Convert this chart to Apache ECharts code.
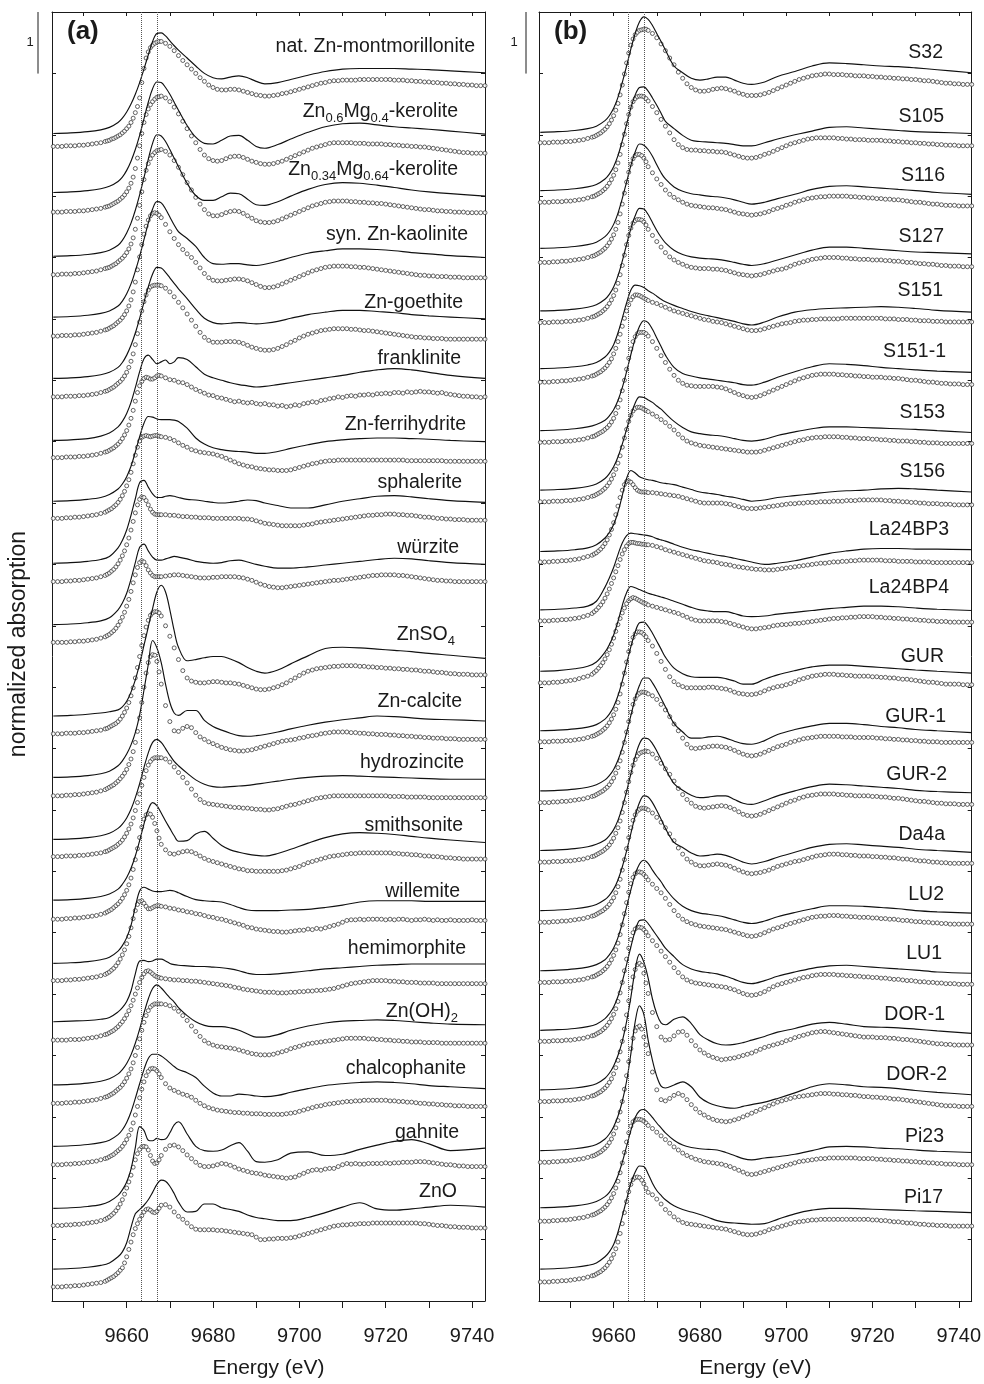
<!DOCTYPE html>
<html><head><meta charset="utf-8">
<script src="https://cdn.jsdelivr.net/npm/echarts/dist/echarts.min.js"></script>
<style>html,body{margin:0;padding:0;background:#fff}#c{width:984px;height:1384px}</style>
</head><body><div id="c"></div>
<script>
// ---------------- DATA ----------------
const energyS=[9643,9647,9651,9654,9656,9658,9659,9660,9661,9662,9663,9664,9665,9666,9667,9668,9669,9670,9671,9672,9674,9676,9678,9680,9682,9684,9686,9688,9690,9692,9695,9698,9702,9706,9710,9714,9718,9722,9726,9730,9735,9743];
const energyC=[9643,9644,9645,9646,9647,9648,9649,9650,9651,9652,9653,9654,9655,
9655.5,9656,9656.5,9657,9657.5,9658,9658.5,9659,9659.5,9660,9660.5,9661,9661.5,9662,9662.5,9663,9663.5,9664,9664.5,9665,9665.5,9666,9666.5,9667,9667.5,9668,
9669,9670,9671,9672,9673,9674,9675,9676,9677,9678,9679,9680,9681,9682,9683,9684,9685,9686,9687,9688,9689,9690,9691,9692,9693,9694,9695,9696,9697,9698,9699,9700,9701,9702,9703,9704,9705,9706,9707,9708,9709,9710,9711,9712,9713,9714,9715,9716,9717,9718,9719,9720,9721,9722,9723,9724,9725,9726,9727,9728,9729,9730,9731,9732,9733,9734,9735,9736,9737,9738,9739,9740,9741,9742,9743];
const labelsA=['nat. Zn-montmorillonite','Zn_{0.6}Mg_{0.4}-kerolite','Zn_{0.34}Mg_{0.64}-kerolite','syn. Zn-kaolinite','Zn-goethite','franklinite','Zn-ferrihydrite','sphalerite','würzite','ZnSO_{4}','Zn-calcite','hydrozincite','smithsonite','willemite','hemimorphite','Zn(OH)_{2}','chalcophanite','gahnite','ZnO'];
const labelsB=['S32','S105','S116','S127','S151','S151-1','S153','S156','La24BP3','La24BP4','GUR','GUR-1','GUR-2','Da4a','LU2','LU1','DOR-1','DOR-2','Pi23','Pi17'];
const offsetsA=[19,18,17,16,15,14,13,12,11,9.5,8.5,7.5,6.5,5.5,4.5,3.5,2.5,1.5,0.5];
const offsetsB=[19,18.05,17.1,16.1,15.15,14.15,13.15,12.2,11.2,10.25,9.25,8.3,7.3,6.35,5.35,4.4,3.4,2.45,1.5,0.5];
const circleShiftA=0.3, circleShiftB=0.2;
const refLines=[9663.3,9667.0];
const xTickValues=[9650,9660,9670,9680,9690,9700,9710,9720,9730,9740];
const xLabelValues=[9660,9680,9700,9720,9740];
// values in hundredths of normalized absorption
const a1s=[2,3,5,8,12,20,27,37,50,66,85,107,130,152,165,166,161,153,145,138,125,112,100,93,91,94,96,93,87,83,85,90,97,103,107,108,108,108,107,106,104,101];
const a1c=[11,11,11,12,12,12,13,13,14,15,16,17,19,20,21,23,24,26,28,30,33,36,40,44,50,57,66,76,90,115,138,155,165,172,176,179,181,182,182,179,174,167,159,151,144,137,130,123,117,111,107,104,103,103,104,104,103,101,99,97,95,94,93,93,94,95,97,98,100,102,104,106,108,110,112,114,115,117,118,118,119,119,119,119,120,120,120,120,120,120,120,120,119,119,119,118,118,117,117,116,116,115,115,114,114,113,113,112,112,111,111,110,110,110];
const a2s=[6,7,9,12,16,24,31,42,57,76,99,126,153,175,186,185,177,166,153,140,115,96,86,85,91,98,99,91,81,78,84,93,104,113,118,119,116,113,111,109,106,101];
const a2c=[4,4,4,5,5,5,6,6,7,8,9,10,12,13,14,16,18,20,22,25,28,32,37,43,51,61,75,92,112,132,150,163,172,179,184,188,191,192,193,190,184,175,164,152,140,128,117,106,97,91,88,87,88,91,94,95,95,93,90,87,85,83,82,82,83,85,87,90,93,96,99,102,105,108,110,112,114,116,117,117,117,117,117,116,116,116,115,115,115,115,114,114,113,113,112,112,111,111,110,110,109,108,107,106,105,104,103,102,101,101,100,100,100,100];
const a3s=[2,3,5,8,12,20,28,40,56,77,102,130,160,186,200,198,189,176,162,148,121,101,93,93,99,105,104,95,86,85,91,100,111,119,122,121,118,114,110,107,104,100];
const a3c=[2,2,3,3,3,4,4,5,6,7,8,10,12,13,14,16,18,20,23,26,29,33,38,44,52,62,76,94,115,137,157,172,183,191,197,201,204,205,206,203,197,188,177,165,152,140,128,117,108,101,98,98,100,103,105,106,105,102,98,94,90,88,87,87,88,90,93,96,99,102,105,108,111,114,116,118,120,121,122,122,122,122,121,121,120,120,119,119,118,118,117,116,115,114,113,112,111,110,109,108,108,107,106,106,105,105,104,104,104,103,103,103,103,103];
const a4s=[3,4,6,9,13,21,29,41,57,78,102,129,156,179,191,189,179,166,153,142,131,118,100,90,89,90,90,88,87,89,94,100,107,111,114,114,113,111,108,106,103,100];
const a4c=[2,2,3,3,3,4,4,5,6,7,8,10,12,13,15,17,19,22,25,28,32,37,43,51,61,74,90,110,131,151,168,181,191,198,202,203,202,199,195,184,172,161,151,143,136,130,122,113,104,97,93,92,92,93,94,95,95,94,92,89,86,83,81,81,82,84,87,90,93,96,99,102,105,108,110,112,114,115,116,116,116,116,115,115,114,114,113,112,111,110,109,108,107,106,105,104,103,102,101,101,100,100,99,99,99,98,98,98,97,97,97,97,97,97];
const a5s=[3,4,6,9,13,21,29,41,57,77,101,127,152,173,184,183,176,167,158,149,133,116,101,94,92,93,94,93,92,93,96,101,107,111,114,114,112,110,107,105,103,100];
const a5c=[3,3,3,4,4,4,5,5,6,7,8,10,12,13,15,17,19,22,25,28,32,37,43,51,61,73,88,106,125,143,158,169,177,182,184,185,185,185,184,180,174,166,157,148,138,128,118,108,100,95,92,92,92,93,93,93,92,90,87,84,82,80,79,79,80,82,85,88,92,95,99,102,105,107,109,111,112,113,114,114,114,114,113,113,112,111,111,110,109,108,107,106,105,104,103,102,101,100,100,99,99,98,98,98,97,97,97,97,97,97,97,97,97,97];
const a6s=[2,3,5,9,14,24,33,46,64,88,114,135,141,134,127,130,133,127,130,137,134,122,110,104,100,96,93,91,89,90,93,96,100,104,108,113,117,119,117,113,108,103];
const a6c=[4,4,4,5,5,5,6,6,7,8,9,11,13,14,16,18,20,23,26,30,35,41,48,57,68,81,96,110,121,128,133,135,134,132,132,134,137,138,137,134,131,130,127,126,123,119,115,112,109,106,105,102,101,99,97,95,96,94,93,94,92,91,92,90,90,88,89,87,88,90,89,92,93,95,94,97,98,100,101,103,102,104,105,104,106,106,107,106,108,108,109,108,110,110,109,111,110,111,112,111,111,110,109,110,108,107,106,105,104,104,103,103,102,103];
const a7s=[3,4,6,9,14,23,31,43,60,83,108,130,141,140,137,136,136,136,135,133,122,106,96,90,87,85,84,83,81,81,84,89,95,100,103,105,106,106,105,104,102,100];
const a7c=[5,5,5,6,6,7,7,8,9,10,11,13,15,17,19,21,24,27,31,36,42,49,58,68,80,94,108,121,131,137,139,140,139,138,139,140,140,139,138,137,135,132,128,124,121,117,115,113,112,111,110,108,106,103,100,97,94,92,90,89,87,86,85,84,84,83,83,83,84,86,88,90,92,94,95,97,98,99,99,100,100,100,100,100,100,100,100,100,100,100,100,100,100,100,100,99,99,99,99,99,99,99,99,99,98,98,98,98,98,98,98,98,98,98];
const a8s=[2,3,5,8,13,27,39,56,80,107,133,137,126,115,109,109,111,112,111,109,106,105,103,101,100,101,103,105,104,100,96,92,92,97,103,107,111,112,110,107,104,101];
const a8c=[2,2,2,3,3,4,4,5,6,7,8,10,12,14,16,19,22,26,31,37,44,52,62,73,86,100,114,127,136,140,139,134,127,120,115,112,111,111,111,111,110,110,109,108,108,107,107,106,106,106,105,105,105,105,105,105,105,104,104,103,101,99,97,96,95,94,93,93,93,93,93,94,95,96,98,99,100,101,102,103,104,105,106,107,108,109,110,110,111,111,112,112,112,111,111,110,110,109,108,107,107,106,105,105,104,104,103,103,103,102,102,102,102,102];
const a9s=[2,3,5,8,13,26,37,53,76,103,128,133,122,112,107,107,109,111,113,112,109,105,103,102,103,106,107,104,100,97,94,94,96,99,102,105,108,110,109,106,103,100];
const a9c=[3,3,3,3,4,4,5,5,6,7,8,10,12,14,16,19,22,26,31,37,44,52,62,73,86,100,113,125,133,136,134,128,121,116,112,110,110,110,110,111,112,113,113,112,111,110,109,108,108,108,109,109,110,110,110,110,109,108,106,104,101,98,96,94,93,92,92,93,94,95,96,97,98,99,100,101,102,103,104,104,105,106,107,108,109,110,111,112,112,113,113,113,113,112,112,111,110,109,108,107,106,105,104,104,103,103,102,102,102,102,102,102,102,102];
const a10s=[3,4,6,8,10,13,18,27,42,62,88,118,148,178,205,216,205,176,142,115,93,95,98,100,100,96,90,82,76,73,78,88,101,113,115,114,112,110,108,105,102,97];
const a10c=[4,4,4,5,5,5,6,6,7,8,9,10,12,13,15,17,19,21,24,28,33,39,46,55,66,79,95,112,130,148,164,178,189,197,201,203,203,201,196,180,163,144,125,107,95,90,88,87,87,88,89,89,88,87,87,86,85,83,81,79,77,76,76,77,79,81,84,87,91,95,99,103,106,108,110,111,112,113,114,114,115,115,115,115,114,114,113,113,112,112,111,111,110,110,109,109,108,108,107,106,106,105,104,104,103,102,102,101,101,101,100,100,100,100];
const a11s=[3,4,6,9,13,22,30,41,56,76,105,145,187,226,214,190,155,125,108,104,112,112,96,86,80,75,71,70,71,73,77,82,88,93,97,100,103,102,100,98,97,95];
const a11c=[3,3,3,4,4,5,5,6,7,8,9,11,13,15,17,19,21,24,27,31,35,40,46,54,63,75,90,108,130,155,180,203,220,230,233,232,222,205,185,150,124,109,108,113,116,114,106,99,95,91,88,85,82,80,78,77,76,76,77,78,80,82,84,86,88,90,92,93,94,95,97,98,100,101,102,104,105,106,107,107,107,107,106,106,105,105,104,104,103,103,103,102,102,101,101,100,100,99,99,98,98,97,97,97,96,96,96,95,95,95,95,95,95,95];
const a12s=[2,3,5,8,12,20,27,37,51,70,93,119,143,160,165,160,150,139,129,122,110,99,92,88,87,88,89,90,92,94,97,100,103,105,106,105,104,103,102,101,100,100];
const a12c=[4,4,4,5,5,5,6,6,7,8,9,10,12,13,15,17,19,21,24,27,31,36,42,49,57,67,79,92,106,120,133,144,153,159,163,165,165,165,165,163,158,150,141,133,124,114,104,97,92,90,89,88,87,86,85,84,84,83,83,82,81,81,80,80,81,82,84,86,88,89,91,93,95,97,99,100,101,102,103,103,103,103,103,103,103,103,103,103,103,103,103,102,102,102,102,101,101,101,101,101,100,100,100,100,100,100,100,100,100,100,100,100,100,100];
const a13s=[3,4,6,9,13,21,29,40,55,75,100,127,151,162,157,145,132,120,108,99,100,111,115,104,92,85,81,78,76,75,79,86,96,105,111,113,112,110,107,104,101,97];
const a13c=[2,2,2,3,3,4,4,5,6,7,8,10,12,14,16,18,21,24,27,31,36,42,49,58,69,83,99,117,135,152,165,172,174,173,168,158,146,134,124,115,109,108,110,112,113,112,109,105,101,98,96,94,92,90,88,86,84,83,81,81,80,80,80,80,80,80,81,82,84,86,88,91,94,96,98,100,102,104,105,106,107,108,109,109,110,110,110,110,110,110,110,110,109,109,108,108,107,107,106,105,105,104,104,103,102,102,101,101,100,100,100,100,100,100];
const a14s=[0,1,3,6,10,20,29,42,62,92,118,124,121,118,117,117,118,119,118,115,109,104,102,101,100,96,91,87,86,86,86,87,88,91,95,100,102,102,102,101,101,101];
const a14c=[2,2,2,3,3,4,4,5,6,7,8,10,12,14,16,19,22,26,31,37,44,52,62,74,88,103,116,126,131,132,128,123,119,119,121,123,124,124,123,122,120,119,117,116,114,113,111,110,108,106,105,103,102,100,98,96,94,92,89,88,86,85,84,83,82,82,81,81,82,83,84,84,86,85,87,86,88,90,92,94,97,100,101,101,102,101,102,102,102,102,101,102,101,102,102,101,100,101,101,102,101,100,101,100,100,101,100,100,100,100,101,100,100,100];
const a15s=[5,6,7,9,12,21,28,38,55,83,104,105,103,104,107,107,104,100,98,97,96,95,95,94,93,91,88,84,82,82,83,85,88,91,93,95,97,98,99,99,99,99];
const a15c=[5,5,5,5,6,6,6,7,8,9,10,12,14,15,17,19,21,24,27,31,35,40,46,53,61,70,80,90,99,107,113,117,118,116,113,110,108,107,106,105,104,103,103,102,102,101,101,100,99,98,97,96,95,94,93,91,90,88,87,86,85,84,83,83,83,82,82,82,83,83,84,84,85,85,86,86,87,88,89,91,93,95,97,98,99,100,101,102,102,102,102,101,101,100,100,99,99,99,98,98,98,98,97,97,97,97,97,97,97,97,97,97,97,97];
const a16s=[2,3,5,8,12,20,27,37,51,70,93,119,142,159,165,160,152,144,137,128,115,105,99,97,97,95,91,85,80,80,84,91,98,103,106,107,108,107,105,103,101,100];
const a16c=[2,2,2,3,3,4,4,5,6,7,8,10,12,13,15,17,19,22,25,28,32,37,43,50,58,68,80,93,107,121,134,145,153,159,162,164,164,164,164,163,161,157,152,145,137,128,119,111,104,100,97,95,94,93,92,91,89,87,85,83,82,81,81,81,82,84,86,88,91,93,95,97,99,100,101,102,103,104,105,106,107,108,108,108,108,108,107,107,106,106,105,105,104,104,103,103,102,102,102,101,101,101,101,100,100,100,100,100,100,100,100,100,100,100];
const a17s=[2,3,5,8,12,21,29,41,58,80,104,127,145,152,152,149,144,138,132,127,122,114,100,89,84,84,87,86,84,83,85,90,96,101,104,106,107,106,104,101,99,96];
const a17c=[2,2,2,3,3,4,4,5,6,7,8,10,12,13,15,17,19,22,25,28,32,37,43,50,59,70,83,97,111,125,137,147,154,158,159,158,155,150,144,134,127,123,120,117,115,112,107,102,98,95,93,91,90,89,88,87,87,86,86,85,85,85,84,84,84,84,84,85,86,87,89,91,93,95,97,98,100,101,102,103,104,105,105,106,106,107,107,107,107,107,107,106,106,105,105,104,104,103,102,102,101,101,100,100,99,99,98,98,98,97,97,97,97,97];
const a18s=[1,2,4,7,12,22,31,44,65,100,134,128,112,111,115,113,114,124,137,142,122,102,95,94,96,103,108,94,77,76,80,91,93,87,89,97,104,110,113,106,95,99];
const a18c=[3,3,3,4,4,5,5,6,7,8,9,11,13,15,17,20,23,27,32,38,45,54,64,74,85,98,110,120,127,131,132,131,126,117,108,104,105,110,117,127,133,134,131,125,118,112,106,101,99,99,100,102,104,103,101,98,95,93,91,89,88,87,85,84,83,82,81,80,81,82,85,88,91,93,94,93,95,96,96,99,102,104,103,104,103,103,104,104,104,104,105,104,105,105,106,106,106,107,107,107,106,105,104,103,102,102,101,100,100,99,99,99,99,99];
const a19s=[2,3,5,8,12,22,30,45,70,92,99,106,115,127,140,147,145,137,125,111,95,96,108,108,102,99,96,90,86,84,81,81,86,94,103,110,100,98,100,103,106,103];
const a19c=[3,3,3,4,4,5,5,6,7,8,9,10,12,14,16,18,20,23,26,30,34,42,52,64,76,88,98,106,113,119,125,129,130,128,125,124,126,131,136,137,133,125,118,113,107,101,97,96,96,96,96,95,95,94,93,92,91,90,89,88,84,80,80,81,81,82,82,82,83,84,86,88,90,92,94,96,98,100,102,103,104,104,105,105,106,106,106,107,107,107,107,107,107,107,107,107,107,107,106,106,105,104,103,103,102,101,101,100,100,100,99,99,99,99];
const b1s=[4,5,7,10,14,23,31,43,61,85,112,140,165,184,192,188,178,165,152,138,112,101,92,89,91,94,94,89,84,82,86,95,103,112,117,116,114,112,111,109,106,101];
const b1c=[7,7,7,8,8,8,9,9,10,11,12,14,16,17,19,21,23,26,29,33,38,44,51,60,71,85,101,119,137,153,166,176,183,187,190,191,192,192,190,185,178,168,157,145,134,122,112,103,97,93,91,91,92,94,95,96,95,93,91,88,86,84,84,84,85,87,89,92,95,98,101,104,107,110,112,114,116,117,118,119,119,118,118,118,117,117,116,116,116,115,115,114,114,113,113,112,112,111,111,110,110,109,108,108,107,106,105,104,104,103,103,102,102,102];
const b2s=[4,5,7,10,14,23,31,43,61,85,112,139,160,172,173,166,155,143,130,117,105,94,86,84,83,82,81,79,77,77,82,88,95,101,107,108,106,104,102,100,99,97];
const b2c=[5,5,5,6,6,6,7,7,8,9,10,12,14,15,17,19,21,24,27,31,36,42,49,58,69,83,99,116,133,148,160,169,174,177,178,178,177,174,170,161,151,140,129,118,107,99,94,91,90,90,89,89,88,88,87,87,86,84,82,80,78,77,77,78,80,83,85,88,91,94,97,100,102,104,106,108,109,110,110,110,110,110,109,109,108,108,107,107,107,106,106,106,106,105,105,104,104,103,103,102,102,101,101,100,100,99,99,98,98,98,97,97,97,97];
const b3s=[5,6,8,11,15,24,32,44,62,86,113,140,162,175,173,166,155,141,128,118,105,98,94,92,90,89,87,84,80,77,80,86,93,101,106,107,105,103,101,99,96,93];
const b3c=[2,2,2,3,3,4,4,5,6,7,8,10,12,13,15,17,19,22,25,29,34,40,47,56,67,81,97,115,133,149,162,171,176,178,178,176,172,166,158,148,138,129,120,113,108,104,100,97,95,94,93,92,91,91,90,89,88,86,84,82,81,80,79,80,81,83,85,88,90,92,95,97,100,102,104,106,107,108,109,109,110,110,110,110,110,109,109,108,108,107,107,106,106,105,105,104,104,103,102,101,100,100,99,98,97,97,96,95,95,95,94,94,94,94];
const b4s=[3,4,6,9,13,22,30,42,60,84,111,137,158,170,169,160,147,134,123,114,102,95,91,89,88,87,85,82,79,77,80,86,94,102,107,107,105,103,101,99,98,96];
const b4c=[4,4,4,5,5,5,6,6,7,8,9,11,13,14,16,18,20,23,26,30,35,41,48,57,68,82,97,114,131,146,158,166,170,172,172,171,168,163,156,146,136,127,118,111,106,102,99,96,94,93,92,92,92,91,91,90,89,87,85,83,82,81,80,81,82,84,86,88,90,91,93,96,99,101,103,105,107,108,109,110,110,110,110,109,109,108,108,107,107,107,106,106,106,105,105,104,104,103,102,102,101,100,100,99,99,98,97,97,96,96,96,95,95,95];
const b5s=[4,5,7,10,14,23,31,43,62,86,111,132,140,139,136,131,127,122,117,113,107,102,97,93,90,87,84,81,77,75,80,88,96,100,102,103,104,105,104,102,99,96];
const b5c=[2,2,2,3,3,4,4,5,6,7,8,10,12,13,15,17,19,22,25,29,34,40,48,57,68,80,93,106,118,128,136,141,144,144,143,141,139,137,135,132,130,127,124,121,118,116,114,112,110,108,106,104,103,101,100,99,97,95,93,91,89,87,86,86,87,89,91,93,95,97,98,99,101,102,103,103,104,104,105,105,105,105,105,106,106,106,106,106,106,106,106,106,106,105,105,105,104,104,104,103,103,102,102,102,101,101,101,100,100,100,100,100,100,100];
const b6s=[3,4,6,9,13,20,27,37,52,73,99,127,153,173,182,179,168,154,140,126,106,96,92,89,87,85,83,81,78,77,82,90,99,107,112,111,109,106,104,102,100,98];
const b6c=[4,4,4,5,5,5,6,6,7,8,9,11,13,14,16,18,20,22,25,28,32,37,43,51,61,73,88,105,123,141,156,168,176,181,183,183,183,181,177,168,157,145,134,123,113,105,100,97,96,95,95,95,95,95,94,93,91,88,85,82,80,78,77,78,80,83,86,89,92,95,98,101,104,107,109,111,113,114,115,115,115,115,114,114,113,113,112,112,111,111,110,110,110,109,109,108,108,107,106,105,105,104,103,102,102,101,100,100,99,99,99,98,98,98];
const b7s=[6,7,9,12,16,25,33,44,60,81,105,128,148,158,157,153,149,143,138,131,118,108,101,98,96,95,93,90,87,86,89,95,101,106,109,109,108,107,106,105,103,100];
const b7c=[7,7,7,8,8,8,9,9,10,11,12,14,16,17,19,21,23,26,29,33,38,44,51,60,70,82,96,111,125,138,148,155,159,161,161,160,158,156,154,150,146,141,136,130,124,117,111,106,103,101,99,98,97,96,95,94,93,92,91,90,89,88,88,88,89,91,93,95,97,99,101,103,105,107,108,110,111,112,112,113,113,113,113,112,112,111,111,110,110,110,109,109,108,108,107,107,106,106,106,105,105,104,104,103,103,103,102,102,102,102,102,102,102,102];
const b8s=[1,2,4,7,12,23,32,45,65,92,120,133,129,123,120,118,117,115,113,112,110,106,102,98,96,94,91,89,86,83,85,89,92,95,98,100,101,103,104,103,101,98];
const b8c=[4,4,4,5,5,6,6,7,8,9,11,13,15,17,19,22,25,29,34,40,48,57,68,81,95,109,121,130,135,136,134,130,125,121,119,118,118,118,117,117,116,115,114,113,112,111,109,107,105,103,101,100,100,100,100,100,99,98,96,94,92,91,91,91,92,93,94,95,96,97,98,99,99,100,100,101,101,101,102,102,102,103,103,103,104,104,104,105,105,105,105,105,105,104,104,103,103,102,102,101,101,100,100,99,99,99,98,98,98,97,97,97,97,97];
const b9s=[6,7,9,12,20,43,58,75,96,115,127,131,130,129,128,127,125,122,120,118,113,108,104,101,98,95,93,90,87,84,80,82,86,92,98,102,105,106,106,105,105,104];
const b9c=[8,8,8,9,9,10,10,11,12,13,15,17,20,23,26,30,34,39,45,52,60,69,78,88,98,108,117,124,130,134,136,136,135,134,134,133,133,132,132,131,129,127,124,122,120,118,116,114,112,110,108,106,105,104,103,101,100,99,97,96,95,94,93,92,92,91,91,91,92,93,94,95,96,97,98,99,100,101,102,102,103,104,104,105,105,106,106,107,107,107,107,107,107,106,106,106,105,105,105,105,104,104,104,104,103,103,103,103,103,103,103,103,103,103];
const b10s=[1,2,5,9,16,32,44,60,82,108,129,139,137,134,131,128,126,124,122,120,115,110,105,101,99,98,98,95,91,90,91,94,97,100,103,105,107,107,106,104,102,100];
const b10c=[2,2,2,3,3,4,5,6,7,9,11,13,16,19,22,26,30,35,41,48,56,65,75,86,97,107,116,124,131,136,139,141,140,138,136,134,132,131,129,127,125,123,121,119,117,115,112,109,106,104,103,103,103,103,103,102,101,99,97,95,93,91,90,90,91,92,93,95,96,97,97,98,99,99,100,101,102,103,104,105,106,107,107,108,108,109,109,110,110,110,110,109,109,108,108,107,107,106,106,105,105,104,104,103,103,102,102,102,101,101,101,101,101,101];
const b11s=[4,5,7,10,14,23,31,43,61,85,113,141,165,180,181,174,163,150,137,124,106,97,92,91,91,91,89,85,80,80,88,95,102,108,111,111,109,107,105,103,101,98];
const b11c=[6,6,6,7,7,7,8,8,9,10,11,13,15,16,18,20,22,25,28,32,37,43,50,59,70,84,100,118,136,153,166,176,182,185,185,184,181,177,171,162,150,137,124,112,104,99,96,94,94,94,94,94,95,95,94,93,92,90,87,85,84,83,83,84,86,89,92,94,96,97,99,101,104,107,109,111,113,114,115,116,116,116,115,115,114,114,113,113,113,113,112,112,111,111,110,110,109,108,108,107,106,105,104,103,103,102,101,100,100,100,100,99,99,99];
const b12s=[1,2,4,7,11,19,26,36,51,71,96,124,152,173,185,185,177,165,152,138,111,97,87,87,89,90,87,82,78,77,83,93,101,107,111,111,109,106,104,101,99,96];
const b12c=[2,2,2,3,3,4,4,5,6,7,8,10,12,13,15,17,19,21,24,27,31,36,42,50,59,70,84,100,117,134,149,162,171,177,180,182,182,181,179,176,170,162,153,142,130,119,107,97,91,90,91,92,93,94,94,93,92,90,87,84,81,79,78,79,81,84,87,90,93,95,97,100,102,104,106,107,108,109,110,110,110,110,110,109,109,109,108,108,108,108,108,107,107,106,106,105,105,104,104,103,103,102,102,101,101,101,100,100,100,100,100,100,100,100];
const b13s=[4,5,7,10,14,21,28,38,53,74,100,129,157,178,187,186,178,166,152,137,113,102,94,90,91,93,93,87,81,79,85,93,101,108,112,111,109,107,105,102,100,98];
const b13c=[5,5,5,6,6,6,7,7,8,9,10,12,14,15,17,19,21,23,26,29,33,38,44,52,61,72,86,102,119,136,151,163,172,178,182,184,185,186,185,181,174,166,157,148,137,125,115,107,101,96,94,93,94,95,96,97,96,94,91,87,83,81,80,81,83,86,89,92,95,98,101,104,106,109,111,113,114,115,116,116,116,116,115,115,114,114,113,113,113,113,112,112,111,111,110,109,109,108,107,106,105,104,104,103,102,101,101,100,100,100,99,99,99,99];
const b14s=[1,2,4,7,11,19,26,36,51,72,98,127,155,177,188,186,177,164,150,135,112,104,95,90,91,93,91,86,80,77,81,88,96,104,109,110,108,106,104,101,99,96];
const b14c=[2,2,2,3,3,4,4,5,6,7,8,10,12,13,15,17,19,21,24,27,31,36,42,50,60,72,87,104,122,140,156,168,177,183,186,188,188,187,185,180,173,165,156,146,135,123,113,105,100,96,94,94,95,96,97,96,95,93,90,87,84,82,81,82,83,85,87,90,93,95,97,99,101,102,104,106,108,110,111,112,113,113,113,112,112,111,111,110,110,110,109,109,108,108,107,107,106,105,105,104,103,102,102,101,100,100,99,99,98,98,98,98,98,98];
const b15s=[3,4,6,9,13,21,29,40,57,80,107,135,160,177,183,178,167,157,148,137,120,108,101,97,95,93,90,86,82,80,84,91,98,104,109,109,108,106,104,101,99,97];
const b15c=[4,4,4,5,5,5,6,6,7,8,9,11,13,14,16,18,20,23,26,30,35,41,48,57,68,82,98,116,134,151,165,175,181,184,184,183,180,176,171,164,157,150,141,131,121,113,107,103,100,98,96,95,94,93,92,91,90,88,86,84,82,80,79,80,82,85,88,91,93,95,98,100,102,104,106,108,110,111,112,112,113,113,113,112,112,111,111,110,110,110,109,109,108,108,107,107,106,105,105,104,103,103,102,102,101,101,100,100,99,99,99,99,99,99];
const b16s=[1,2,4,7,11,20,28,39,56,80,108,137,163,180,181,175,165,155,145,135,121,108,101,97,95,93,89,84,79,77,82,89,96,102,106,107,105,103,101,99,96,94];
const b16c=[3,3,3,4,4,4,5,5,6,7,8,10,12,13,15,17,19,22,25,29,34,40,47,56,68,82,99,118,137,155,169,180,186,189,189,188,185,181,175,167,159,150,141,132,123,115,108,103,100,98,97,96,95,94,93,92,91,89,87,84,81,79,78,79,81,84,88,92,95,97,99,101,103,105,107,108,110,111,112,112,112,112,111,111,110,110,109,109,108,108,107,107,106,106,105,104,104,103,102,102,101,100,100,99,99,98,98,97,97,97,96,96,96,96];
const b17s=[4,5,7,10,14,23,31,43,60,83,115,155,200,225,212,186,152,128,113,110,119,123,112,94,85,79,77,78,81,85,91,98,104,111,114,111,107,106,105,103,100,96];
const b17c=[5,5,5,6,6,6,7,7,8,9,10,12,14,15,17,19,21,24,27,31,36,42,50,60,72,86,103,123,146,169,190,208,220,228,230,227,214,198,181,150,127,110,105,106,112,118,119,113,104,96,89,84,80,77,75,73,74,75,76,78,80,82,84,87,90,93,95,97,99,101,104,106,109,111,113,115,117,118,119,119,118,117,116,115,114,113,112,111,110,110,110,109,109,109,108,108,107,106,106,105,104,103,102,101,100,99,99,98,98,97,97,97,97,97];
const b18s=[0,1,3,6,10,19,27,39,56,80,113,158,210,236,222,180,147,121,105,102,107,112,104,87,78,73,70,69,72,75,79,85,94,104,109,107,104,103,101,98,95,91];
const b18c=[1,1,1,2,2,3,3,4,5,6,7,9,11,12,14,16,18,21,24,28,33,39,47,57,69,83,100,120,142,165,186,203,215,221,223,218,205,192,178,148,119,103,101,105,110,113,110,103,95,88,82,78,74,71,69,68,67,68,70,72,75,78,81,84,87,90,93,96,99,101,103,105,107,108,109,110,111,112,113,113,113,112,112,111,111,110,110,109,108,108,107,107,106,106,105,104,104,103,102,101,100,99,98,97,96,95,94,93,93,93,92,92,92,92];
const b19s=[2,3,5,8,12,20,27,38,54,76,102,128,149,160,162,157,149,140,132,124,112,104,100,98,97,96,92,87,82,80,83,85,89,95,101,102,101,99,98,96,94,92];
const b19c=[0,0,0,1,1,2,2,3,4,5,6,8,10,11,13,15,17,20,23,27,32,38,45,54,65,79,95,112,129,144,155,162,165,166,166,165,163,160,156,151,145,139,133,127,121,116,111,107,104,101,99,97,96,95,94,93,91,89,86,83,80,77,76,77,79,81,83,85,87,89,91,93,95,97,98,99,100,101,102,102,103,103,103,103,103,103,103,102,102,102,102,101,101,100,100,99,99,98,98,97,97,96,96,95,95,94,94,93,93,93,92,92,92,92];
const b20s=[2,3,5,8,12,22,30,42,62,88,115,142,160,170,169,157,142,130,122,115,105,99,95,91,86,81,78,77,76,75,76,83,92,98,101,101,100,99,98,97,96,94];
const b20c=[1,1,1,2,2,3,3,4,5,6,7,9,11,12,14,16,18,21,24,28,33,39,46,55,66,80,96,114,132,148,160,168,171,172,171,167,161,154,147,143,136,128,119,113,107,102,98,96,95,94,93,92,91,90,89,88,87,85,83,81,79,78,78,79,81,83,86,88,90,92,94,96,98,99,100,101,102,102,103,103,103,103,103,103,103,103,103,103,103,103,102,102,101,101,100,99,99,98,97,97,96,95,95,94,94,93,93,93,92,92,92,92,92,92];
const solidA=[a1s,a2s,a3s,a4s,a5s,a6s,a7s,a8s,a9s,a10s,a11s,a12s,a13s,a14s,a15s,a16s,a17s,a18s,a19s];
const circA=[a1c,a2c,a3c,a4c,a5c,a6c,a7c,a8c,a9c,a10c,a11c,a12c,a13c,a14c,a15c,a16c,a17c,a18c,a19c];
const solidB=[b1s,b2s,b3s,b4s,b5s,b6s,b7s,b8s,b9s,b10s,b11s,b12s,b13s,b14s,b15s,b16s,b17s,b18s,b19s,b20s];
const circB=[b1c,b2c,b3c,b4c,b5c,b6c,b7c,b8c,b9c,b10c,b11c,b12c,b13c,b14c,b15c,b16c,b17c,b18c,b19c,b20c];

// ---------------- LAYOUT ----------------
const FONT='"Liberation Sans", Arial, Helvetica, sans-serif';
const G=[{left:52,top:12,width:433,height:1293},{left:539,top:12,width:433,height:1293}];
const X_MIN=9642.7, X_MAX=9743, Y_MAX=21;
const labelPosA=[[475,47],[458,112],[458,170],[468,235],[463,303],[461,359],[466,425],[462,483],[459,548],[455,635],[462,702],[464,763],[463,826],[460,892],[466,949],[458,1012],[466,1069],[459,1133],[457,1192]];
const labelPosB=[[943,53],[944,117],[945,176],[944,237],[943,291],[946,352],[945,413],[945,472],[949,530],[949,588],[944,657],[946,717],[947,775],[945,835],[944,895],[942,954],[945,1015],[947,1075],[944,1137],[943,1198]];
const INK='#1a1a1a';

const chart=echarts.init(document.getElementById('c'),null,{renderer:'canvas'});
const xAxes=[],yAxes=[];
G.forEach((g,gi)=>{
  xAxes.push({type:'value',gridIndex:gi,position:'bottom',min:X_MIN,max:X_MAX,
    axisLine:{show:true,onZero:false,lineStyle:{color:INK,width:1}},
    axisTick:{show:true,inside:false,length:7,customValues:xTickValues,lineStyle:{color:INK}},
    axisLabel:{show:true,customValues:xLabelValues,margin:25,fontSize:20,fontFamily:FONT,color:INK,formatter:v=>String(v)},
    splitLine:{show:false},name:'Energy (eV)',nameLocation:'middle',nameGap:57,
    nameTextStyle:{fontSize:21,fontFamily:FONT,color:INK}});
  xAxes.push({type:'value',gridIndex:gi,position:'top',min:X_MIN,max:X_MAX,
    axisLine:{show:true,onZero:false,lineStyle:{color:INK,width:1}},
    axisTick:{show:true,inside:true,length:4,customValues:xTickValues,lineStyle:{color:INK}},
    axisLabel:{show:false},splitLine:{show:false}});
  yAxes.push({type:'value',gridIndex:gi,position:'left',min:0,max:Y_MAX,interval:1,
    axisLine:{show:true,onZero:false,lineStyle:{color:INK,width:1}},
    axisTick:{show:true,inside:true,length:4,lineStyle:{color:INK}},
    axisLabel:{show:false},splitLine:{show:false}});
  yAxes.push({type:'value',gridIndex:gi,position:'right',min:0,max:Y_MAX,interval:1,
    axisLine:{show:true,onZero:false,lineStyle:{color:INK,width:1}},
    axisTick:{show:true,inside:true,length:4,lineStyle:{color:INK}},
    axisLabel:{show:false},splitLine:{show:false}});
});

const series=[];
function addPanel(gi,solids,circs,offsets,shift){
  solids.forEach((s,i)=>{
    series.push({type:'scatter',xAxisIndex:gi*2,yAxisIndex:gi*2,silent:true,z:3,
      data:energyC.map((e,k)=>[e,circs[i][k]/100+offsets[i]-shift]),
      symbol:'circle',symbolSize:4,
      itemStyle:{color:'#ffffff',borderColor:'#2a2a2a',borderWidth:0.9}});
    const ser={type:'line',xAxisIndex:gi*2,yAxisIndex:gi*2,silent:true,z:4,
      data:energyS.map((e,k)=>[e,s[k]/100+offsets[i]]),
      smooth:0.35,symbol:'none',lineStyle:{color:'#111',width:1.15}};
    if(i===0){
      ser.markLine={silent:true,symbol:['none','none'],label:{show:false},
        lineStyle:{type:'dotted',color:'#555',width:1},
        data:refLines.map(v=>({xAxis:v}))};
    }
    series.push(ser);
  });
}
addPanel(0,solidA,circA,offsetsA,circleShiftA);
addPanel(1,solidB,circB,offsetsB,circleShiftB);

function rich(t){return t.replace(/_\{([^}]*)\}/g,'{s|$1}');}
const graphic=[];
function addLabels(labels,pos){
  labels.forEach((t,i)=>{
    graphic.push({type:'text',x:pos[i][0],y:pos[i][1],silent:true,z:10,
      style:{text:rich(t),align:'right',verticalAlign:'middle',fontSize:19.5,fontFamily:FONT,fill:INK,lineHeight:26,
        rich:{s:{fontSize:13,lineHeight:13,verticalAlign:'bottom',fontFamily:FONT,fill:INK}}}});
  });
}
addLabels(labelsA,labelPosA);
addLabels(labelsB,labelPosB);
const unitPx=G[0].height/Y_MAX;
[[38,30],[526,514]].forEach(([bx,tx])=>{
  graphic.push({type:'line',silent:true,shape:{x1:bx,y1:G[0].top,x2:bx,y2:G[0].top+unitPx},style:{stroke:INK,lineWidth:1}});
  graphic.push({type:'text',silent:true,x:tx,y:G[0].top+30,style:{text:'1',align:'center',verticalAlign:'middle',fontSize:13,fontFamily:FONT,fill:INK}});
});
graphic.push({type:'text',silent:true,x:67,y:32,style:{text:'(a)',align:'left',verticalAlign:'middle',fontSize:26,fontWeight:'bold',fontFamily:FONT,fill:INK}});
graphic.push({type:'text',silent:true,x:554,y:32,style:{text:'(b)',align:'left',verticalAlign:'middle',fontSize:26,fontWeight:'bold',fontFamily:FONT,fill:INK}});
graphic.push({type:'text',silent:true,x:19,y:644,rotation:Math.PI/2,style:{text:'normalized absorption',align:'center',verticalAlign:'middle',fontSize:23,fontFamily:FONT,fill:INK}});

chart.setOption({
  animation:false,backgroundColor:'#ffffff',
  grid:G.map(g=>Object.assign({containLabel:false},g)),
  xAxis:xAxes,yAxis:yAxes,series:series,graphic:graphic
});
</script></body></html>
